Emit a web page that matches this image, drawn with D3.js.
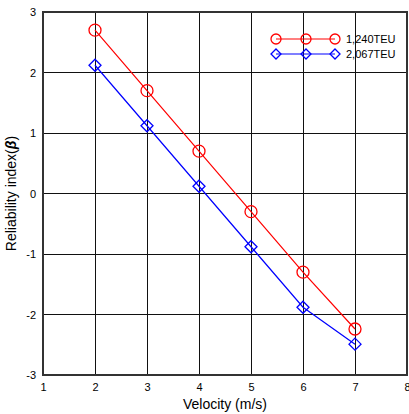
<!DOCTYPE html>
<html>
<head>
<meta charset="utf-8">
<script src="https://cdn.jsdelivr.net/npm/d3@7"></script>
<style>
  body { margin: 0; background: #fff; }
  text { font-family: "Liberation Sans", Arial, sans-serif; }
</style>
</head>
<body>
<div id="vis"></div>
<script>
// data
var velocity = [2, 3, 4, 5, 6, 7];
var teu1240 = [2.7, 1.7, 0.7, -0.3, -1.3, -2.24];
var teu2067 = [2.12, 1.12, 0.12, -0.88, -1.88, -2.49];
var seriesNames = ["1,240TEU", "2,067TEU"];
var xTicks = [1, 2, 3, 4, 5, 6, 7, 8];
var yTicks = [-3, -2, -1, 0, 1, 2, 3];

var margin = {top: 12, right: 2, bottom: 39, left: 43},
    width = 409 - margin.left - margin.right,
    height = 414 - margin.top - margin.bottom;

var svg = d3.select("#vis").append("svg")
    .attr("width", 409)
    .attr("height", 414)
  .append("g")
    .attr("transform", "translate(" + margin.left + "," + margin.top + ")");

var x = d3.scaleLinear().domain([1, 8]).range([0, width]);
var y = d3.scaleLinear().domain([-3, 3]).range([height, 0]);

// plain hyphen for negatives, like the original
var fmt = function(d) { return String(d) }

// grid
svg.selectAll(".vgrid")
    .data(xTicks)
  .enter().append("line")
    .attr("x1", function(d) { return x(d) }).attr("x2", function(d) { return x(d) })
    .attr("y1", 0).attr("y2", height)
    .attr("stroke", "#111").attr("stroke-width", 1).attr("shape-rendering", "crispEdges")

svg.selectAll(".hgrid")
    .data(yTicks)
  .enter().append("line")
    .attr("x1", 0).attr("x2", width)
    .attr("y1", function(d) { return y(d) }).attr("y2", function(d) { return y(d) })
    .attr("stroke", "#111").attr("stroke-width", 1).attr("shape-rendering", "crispEdges")

// frame
svg.append("rect")
    .attr("width", width).attr("height", height)
    .attr("fill", "none").attr("stroke", "#333").attr("stroke-width", 1.5)
    .attr("shape-rendering", "crispEdges")

// axes (labels only)
var xAxis = svg.append("g")
    .attr("transform", "translate(0," + height + ")")
    .call(d3.axisBottom(x).tickValues(xTicks).tickSize(0).tickPadding(8).tickFormat(fmt))
xAxis.select(".domain").remove()

var yAxis = svg.append("g")
    .call(d3.axisLeft(y).tickValues(yTicks).tickSize(0).tickPadding(7).tickFormat(fmt))
yAxis.select(".domain").remove()

svg.selectAll(".tick text")
    .style("font-size", "11px")
    .style("font-family", "Liberation Sans, Arial, sans-serif")
    .attr("fill", "#000")

// axis titles
svg.append("text")
    .attr("x", width / 2).attr("y", height + 34)
    .attr("text-anchor", "middle")
    .style("font-size", "14px")
    .text("Velocity (m/s)")

var yTitle = svg.append("text")
    .attr("transform", "translate(" + (-27) + "," + (height / 2) + ") rotate(-90)")
    .attr("text-anchor", "middle")
    .style("font-size", "14px")
yTitle.append("tspan").text("Reliability index(")
yTitle.append("tspan").style("font-style", "italic").style("font-weight", "bold").text("β")
yTitle.append("tspan").text(")")

var series = [
  {name: seriesNames[0], values: teu1240, color: "#ff0000", shape: "circle"},
  {name: seriesNames[1], values: teu2067, color: "#0000ff", shape: "diamond"}
];

var line = d3.line()
    .x(function(d) { return x(d[0]) })
    .y(function(d) { return y(d[1]) })

function drawMarker(g, shape, color, cx, cy, r) {
  if (shape == "circle") {
    g.append("circle")
        .attr("cx", cx).attr("cy", cy).attr("r", r)
        .attr("fill", "none").attr("stroke", color).attr("stroke-width", 1.3)
  } else {
    g.append("path")
        .attr("d", "M" + cx + "," + (cy - r) + "L" + (cx + r) + "," + cy + "L" + cx + "," + (cy + r) + "L" + (cx - r) + "," + cy + "Z")
        .attr("fill", "none").attr("stroke", color).attr("stroke-width", 1.3)
  }
}

series.forEach(function(s) {
  var pts = velocity.map(function(v, i) { return [v, s.values[i]] })
  svg.append("path")
      .datum(pts)
      .attr("d", line)
      .attr("fill", "none")
      .attr("stroke", s.color)
      .attr("stroke-width", 1.2)
  pts.forEach(function(p) {
    drawMarker(svg, s.shape, s.color, x(p[0]), y(p[1]), 6)
  })
})

// legend
var legend = svg.append("g")
    .attr("transform", "translate(" + (276 - margin.left) + "," + (39 - margin.top) + ")")

series.forEach(function(s, i) {
  var ly = i * 15
  legend.append("line")
      .attr("x1", 0).attr("x2", 59).attr("y1", ly).attr("y2", ly)
      .attr("stroke", s.color).attr("stroke-width", 1.2)
  ;[0, 30, 59].forEach(function(mx) {
    drawMarker(legend, s.shape, s.color, mx, ly, 5)
  })
  legend.append("text")
      .attr("x", 70).attr("y", ly + 4)
      .style("font-size", "11px")
      .text(s.name)
})
</script>
</body>
</html>
